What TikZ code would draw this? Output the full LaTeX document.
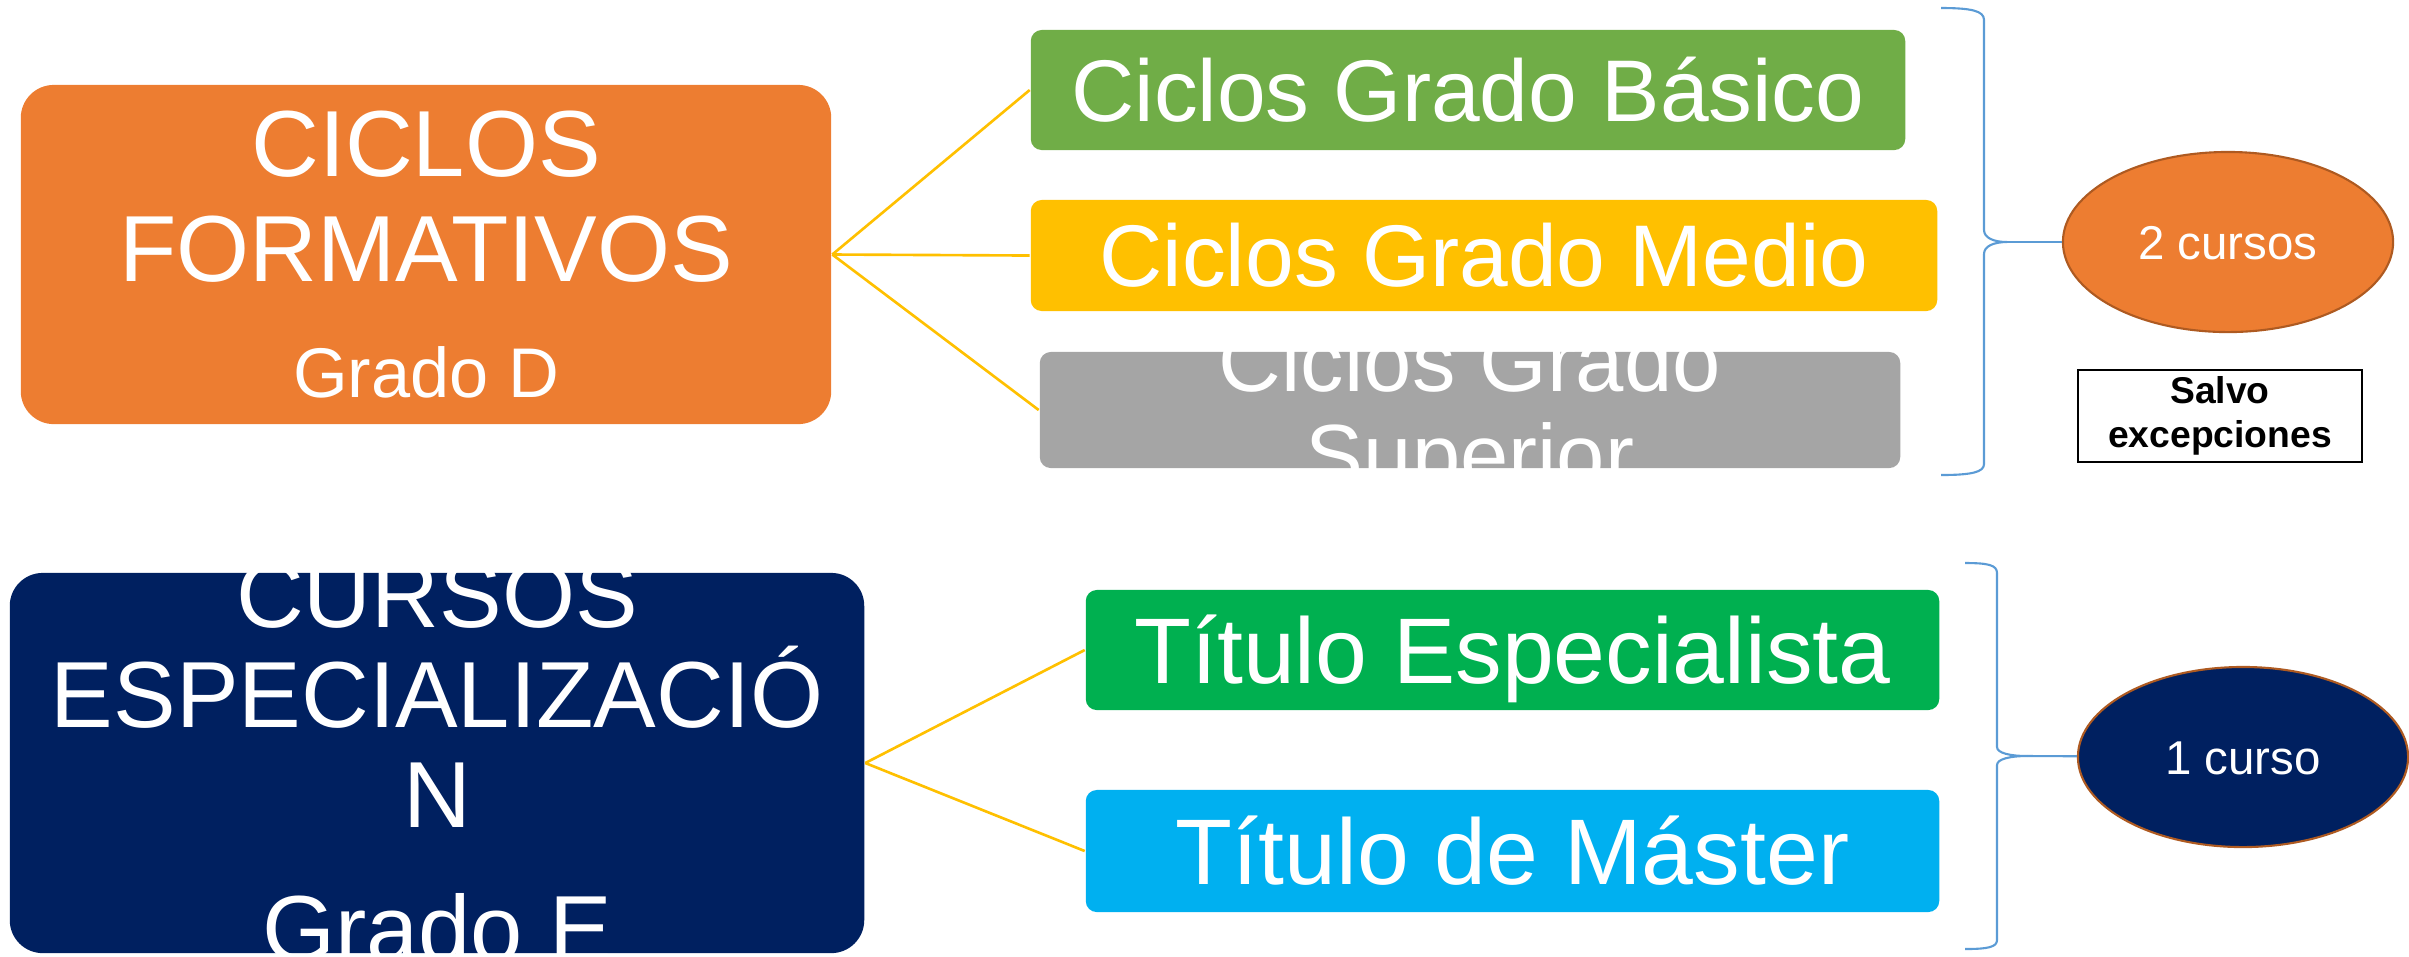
\documentclass[tikz,border=0pt]{standalone}
\usepackage{fontspec}
\setmainfont{Liberation Sans}
\usetikzlibrary{positioning}
\usetikzlibrary{shapes.geometric}
\definecolor{naranja}{HTML}{ED7D31}
\definecolor{verde}{HTML}{70AD47}
\definecolor{amarillo}{HTML}{FFC000}
\definecolor{gris}{HTML}{A5A5A5}
\definecolor{marino}{HTML}{002060}
\definecolor{verdetit}{HTML}{00B050}
\definecolor{celeste}{HTML}{00B0F0}
\definecolor{azulllave}{HTML}{5B9BD5}
\definecolor{borde}{HTML}{AE5A21}

\begin{document}
\begin{tikzpicture}[x=0.01cm,y=-0.01cm,semithick]
			\tikzstyle{grande}=[rectangle,rounded corners=0.33cm,text=white,align=center,inner sep=0pt]
			\tikzstyle{caja}=[rectangle,rounded corners=0.11cm,text=white,inner sep=0pt,text depth=0pt]
			\tikzstyle{texto}=[text=white,align=center,inner sep=0pt]
			\tikzstyle{curso}=[ellipse,draw=borde,line width=0.6pt,minimum width=3.3cm,minimum height=1.8cm,
			inner sep=0pt,text=white,text height=9.7pt,text depth=0pt,font=\fontsize{13.5}{16}\selectfont]
			\tikzstyle{rama}=[draw=amarillo,line width=0.75pt]
			\tikzstyle{llave}=[draw=azulllave,line width=0.6pt]
			
			\useasboundingbox (0,0) rectangle (2409,956);
			
			% ciclos formativos
			\node[grande,fill=naranja,minimum width=8.1cm,minimum height=3.39cm,
			font=\fontsize{26.7}{29.8}\selectfont] (ciclos) at (426,254.5)
			{CICLOS\\FORMATIVOS\\[3.2pt]{\fontsize{20}{24}\selectfont Grado D}};
			\node[caja,fill=verde,minimum width=8.74cm,minimum height=1.2cm,text height=17.8pt,
			font=\fontsize{24.9}{27}\selectfont] (basico) at (1468,90) {Ciclos Grado Básico};
			\node[caja,fill=amarillo,minimum width=9.06cm,minimum height=1.11cm,text height=17.8pt,
			font=\fontsize{24.9}{27}\selectfont] (medio) at (1484,255.5) {Ciclos Grado Medio};
			\node[caja,fill=gris,minimum width=8.6cm,minimum height=1.16cm] (superior) at (1470,410) {};
			\node[texto,font=\fontsize{24.7}{26.5}\selectfont] (superiortxt) at (1470,416) {Ciclos Grado\\Superior};
			
			\node[curso,fill=naranja] (dos) at (2228,242) {2 cursos};
			\node[rectangle,draw=black,line width=0.6pt,minimum width=2.84cm,minimum height=0.92cm,
			inner sep=0pt,align=center,font=\fontsize{10.6}{12.5}\selectfont\bfseries] (salvo) at (2220,416)
			{Salvo\\excepciones};
			
			% cursos de especializacion
			\node[grande,fill=marino,minimum width=8.54cm,minimum height=3.8cm] (cursos) at (437,763) {};
			\node[texto,font=\fontsize{26.7}{28.5}\selectfont] (cursostxt) at (437,762)
			{CURSOS\\ESPECIALIZACIÓ\\N\\[9.6pt]Grado E};
			\node[caja,fill=verdetit,minimum width=8.53cm,minimum height=1.2cm,text height=19pt,
			font=\fontsize{26.5}{29}\selectfont] (especialista) at (1512.5,650) {Título Especialista};
			\node[caja,fill=celeste,minimum width=8.53cm,minimum height=1.22cm,text height=19pt,
			font=\fontsize{26.5}{29}\selectfont] (master) at (1512.5,851) {Título de Máster};
			
			\node[curso,fill=marino] (uno) at (2243,757) {1 curso};
			
			% llaves
			\draw[llave] (1941,8) .. controls (1972,8) and (1984,11) .. (1984,20) -- (1984,230)
			.. controls (1984,238) and (1994,242) .. (2007,242) coordinate (punta1)
			.. controls (1994,242) and (1984,246) .. (1984,254) -- (1984,464)
			.. controls (1984,472) and (1972,475) .. (1941,475);
			\draw[llave] (1965,563) .. controls (1988,563) and (1997,565) .. (1997,573) -- (1997,747)
			.. controls (1997,753) and (2010,756) .. (2027,756) coordinate (punta2)
			.. controls (2010,756) and (1997,759) .. (1997,765) -- (1997,940)
			.. controls (1997,947) and (1988,949) .. (1965,949);
			
			\path (ciclos.east) edge[rama] (basico.west)
			(ciclos.east) edge[rama] (medio.west)
			(ciclos.east) edge[rama] (superior.west)
			(cursos.east) edge[rama] (especialista.west)
			(cursos.east) edge[rama] (master.west)
			(punta1) edge[llave] (dos)
			(punta2) edge[llave] (uno);
\end{tikzpicture}
\end{document}
